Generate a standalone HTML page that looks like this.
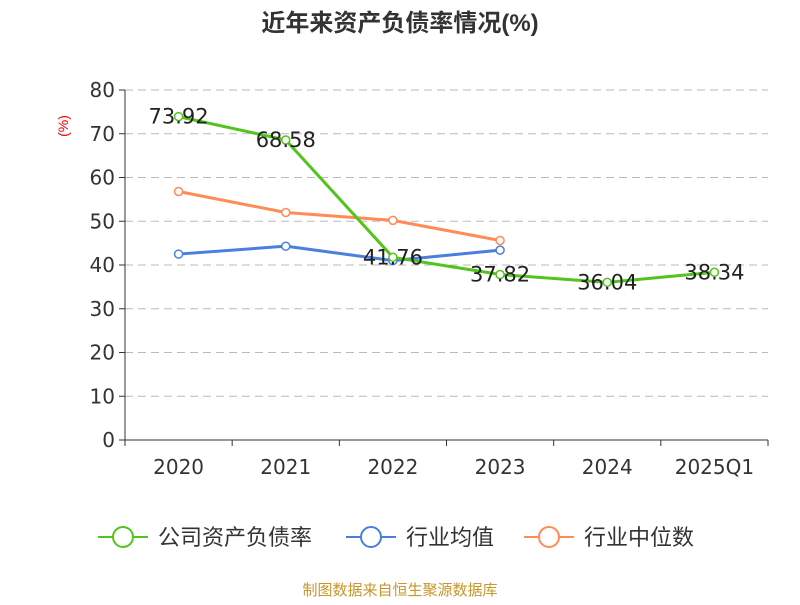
<!DOCTYPE html>
<html><head><meta charset="utf-8"><style>
body{margin:0;background:#fff;font-family:"Liberation Sans","Noto Sans CJK SC",sans-serif;}
.num{font-family:"DejaVu Sans","Liberation Sans",sans-serif;}
</style></head><body>
<svg id="chart" width="800" height="600" xmlns="http://www.w3.org/2000/svg">
<text x="400" y="31" text-anchor="middle" font-size="24" font-weight="bold" fill="#333">近年来资产负债率情况(%)</text>
<text transform="translate(68,126) rotate(-90)" text-anchor="middle" font-size="14" fill="#e00">(%)</text>
<g id="grid"></g><g id="axes"></g><g id="series"></g>
<g>
<g><line x1="98" y1="537" x2="148" y2="537" stroke="#52c41a" stroke-width="2"/><circle cx="123" cy="537" r="10" fill="#fff" stroke="#52c41a" stroke-width="2"/><text x="158" y="545" font-size="22" fill="#333">公司资产负债率</text></g>
<g><line x1="346" y1="537" x2="396" y2="537" stroke="#4a7fe0" stroke-width="2"/><circle cx="371" cy="537" r="10" fill="#fff" stroke="#4a7fe0" stroke-width="2"/><text x="406" y="545" font-size="22" fill="#333">行业均值</text></g>
<g><line x1="524" y1="537" x2="574" y2="537" stroke="#ff8c55" stroke-width="2"/><circle cx="549" cy="537" r="10" fill="#fff" stroke="#ff8c55" stroke-width="2"/><text x="584" y="545" font-size="22" fill="#333">行业中位数</text></g>
</g>
<text x="400" y="595" text-anchor="middle" font-size="15" fill="#c8962a">制图数据来自恒生聚源数据库</text>
</svg>
<script>
const categories=["2020","2021","2022","2023","2024","2025Q1"];
const companyValues=[73.92,68.58,41.76,37.82,36.04,38.34];
const industryAvg=[42.5,44.3,41.0,43.4];
const industryMedian=[56.8,52.0,50.2,45.6];
const yTicks=[0,10,20,30,40,50,60,70,80];
const NS="http://www.w3.org/2000/svg";
const x0=125,x1=768,yBase=440,yTop=90,yMax=80;
const band=(x1-x0)/categories.length;
const X=i=>x0+band*(i+0.5);
const Y=v=>yBase-(v/yMax)*(yBase-yTop);
function mk(p,t,a){const e=document.createElementNS(NS,t);for(const k in a)e.setAttribute(k,a[k]);p.appendChild(e);return e;}
const grid=document.getElementById('grid'),axes=document.getElementById('axes'),ser=document.getElementById('series');
yTicks.forEach(v=>{
 if(v>0){const l=mk(grid,'line',{x1:x0,x2:x1,y1:Y(v),y2:Y(v),stroke:'#bbb','stroke-dasharray':'8,5'});
 
 }
 mk(axes,'line',{x1:x0-6,x2:x0,y1:Y(v),y2:Y(v),stroke:'#333'});
 const t=mk(axes,'text',{x:x0-10,y:Y(v)+7,'text-anchor':'end','font-size':20,fill:'#333',class:'num'});t.textContent=v;
 
 
});
mk(axes,'line',{x1:x0,x2:x0,y1:yTop,y2:yBase,stroke:'#333'});
mk(axes,'line',{x1:x0,x2:x1,y1:yBase,y2:yBase,stroke:'#333'});
for(let i=0;i<=categories.length;i++)mk(axes,'line',{x1:x0+band*i,x2:x0+band*i,y1:yBase,y2:yBase+6,stroke:'#333'});
categories.forEach((c,i)=>{const t=mk(axes,'text',{x:X(i),y:474,'text-anchor':'middle','font-size':20,fill:'#333',class:'num'});t.textContent=c;
 
 });
function series(vals,color,name,labels){
 const g=mk(ser,'g',{});
 
 
 mk(g,'polyline',{points:vals.map((v,i)=>X(i)+','+Y(v)).join(' '),fill:'none',stroke:color,'stroke-width':3});
 vals.forEach((v,i)=>{const c=mk(g,'circle',{cx:X(i),cy:Y(v),r:4,fill:'#fff',stroke:color,'stroke-width':1.5});
  
  
  if(labels){const t=mk(g,'text',{x:X(i),y:Y(v)+7,'text-anchor':'middle','font-size':21,fill:'#222',class:'num'});t.textContent=v.toFixed(2);
  
  }
 });
}
series(industryAvg,'#4a7fe0','industry-avg-line',false);
series(industryMedian,'#ff8c55','industry-median-line',false);
series(companyValues,'#52c41a','company-line',true);
</script>
</body></html>
